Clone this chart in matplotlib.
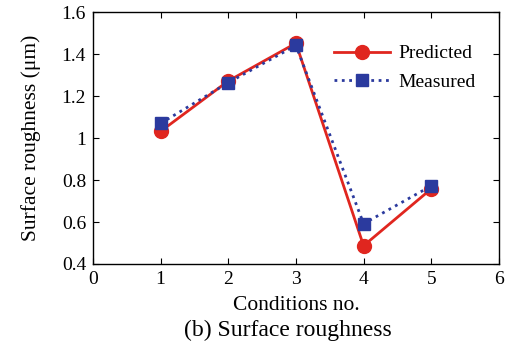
import numpy as np
import matplotlib.pyplot as plt

plt.rcParams['font.family'] = 'Liberation Serif'
plt.rcParams['mathtext.fontset'] = 'stix'

# Data
conditions = [1, 2, 3, 4, 5]
predicted = [1.032, 1.272, 1.452, 0.487, 0.758]
measured = [1.070, 1.264, 1.441, 0.592, 0.772]

red = '#e0261f'
blue = '#2b3a9e'

fig = plt.figure(figsize=(5.07, 3.46), dpi=100)
ax = fig.add_axes([0.1834, 0.237, 0.8006, 0.728])

ax.plot(conditions, predicted, '-o', color=red, lw=2, ms=10, label='Predicted')
ax.plot(conditions, measured, ':s', color=blue, lw=2, ms=8, label='Measured')

ax.set_xlim(0, 6)
ax.set_ylim(0.4, 1.6)
ax.set_xticks(range(0, 7))
ax.set_yticks([0.4, 0.6, 0.8, 1.0, 1.2, 1.4, 1.6])
ax.set_yticklabels(['0.4', '0.6', '0.8', '1', '1.2', '1.4', '1.6'])
ax.tick_params(direction='in', top=True, right=True, labelsize=14, length=4, pad=5)
for s in ax.spines.values():
    s.set_linewidth(1)

ax.set_ylabel('Surface roughness (μm)', fontsize=15.5, labelpad=15)
ax.set_xlabel('Conditions no.', fontsize=15.5, labelpad=6)
fig.text(0.567, 0.03, '(b) Surface roughness', ha='center', fontsize=17)

ax.legend(loc='upper left', frameon=False, fontsize=14, handlelength=2.9,
          bbox_to_anchor=(0.594, 0.87), borderaxespad=0, borderpad=0,
          labelspacing=0.57, handletextpad=0.4)

plt.savefig('out.png', dpi=100)
